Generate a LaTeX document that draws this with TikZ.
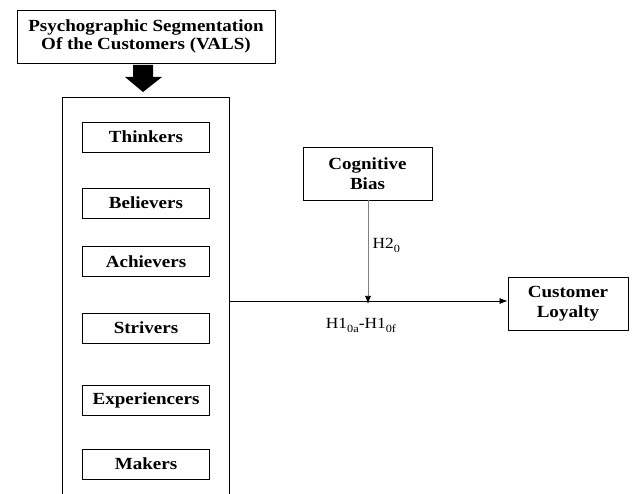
\documentclass[tikz,border=0pt]{standalone}
\usepackage{fontspec}
\setmainfont{Liberation Serif}[FakeStretch=1.12]
\usetikzlibrary{arrows.meta}
\begin{document}
\begin{tikzpicture}[x=1pt,y=-1pt,
  lbl/.style={font=\fontsize{17}{18}\selectfont\bfseries, align=center},
  catbox/.style={draw, line width=0.9pt, minimum width=127pt, minimum height=30pt, inner sep=0pt, lbl},
  hyp/.style={font=\fontsize{15.5}{18}\selectfont},
  conn/.style={line width=0.7pt, -{Latex[length=8pt,width=6pt,color=black]}}]
\useasboundingbox (0,0) rectangle (638,494);
\fill[white] (0,0) rectangle (638,494);
% top box
\node[draw, line width=0.9pt, minimum width=258pt, minimum height=53pt, inner sep=0pt, lbl] (vals) at (146,36.5) {Psychographic Segmentation\\Of the Customers (VALS)};
% thick arrow
\fill (133,65) -- (153,65) -- (153,77) -- (162,77) -- (143,92) -- (125,77) -- (133,77) -- cycle;
% big box (open at bottom)
\coordinate (bl) at (62,494);
\coordinate (tl) at (62,97);
\coordinate (tr) at (229,97);
\coordinate (br) at (229,494);
\draw[line width=0.9pt] (bl) -- (tl) -- (tr) -- (br);
% categories
\node[catbox] (thinkers) at (146,137) {Thinkers};
\node[catbox] (believers) at (146,203) {Believers};
\node[catbox] (achievers) at (146,261.5) {Achievers};
\node[catbox] (strivers) at (146,328) {Strivers};
\node[catbox] (exper) at (146,400) {Experiencers};
\node[catbox] (makers) at (146,464) {Makers};
% cognitive bias
\node[draw, line width=0.9pt, minimum width=129pt, minimum height=53pt, inner sep=0pt, lbl, font=\fontsize{17}{20}\selectfont\bfseries] (bias) at (367.5,173.5) {Cognitive\\Bias};
% customer loyalty
\node[draw, line width=0.9pt, minimum width=120pt, minimum height=53pt, inner sep=0pt, lbl, font=\fontsize{17}{20}\selectfont\bfseries] (loyal) at (568,303.5) {Customer\\Loyalty};
% connectors
\coordinate (src) at (229,301);
\coordinate (mid) at (368,301);
\draw[conn] (src) -- (loyal.west |- src);
\draw[conn, draw=black!50] (bias.south -| mid) -- ([yshift=-3pt]mid);
\node[hyp, anchor=west] (h2) at (369,245) {H2\raisebox{-4pt}{\fontsize{11}{12}\selectfont 0}};
\node[hyp] (h1) at (361,325) {H1\raisebox{-4pt}{\fontsize{11}{12}\selectfont 0a}-H1\raisebox{-4pt}{\fontsize{11}{12}\selectfont 0f}};
\end{tikzpicture}
\end{document}
